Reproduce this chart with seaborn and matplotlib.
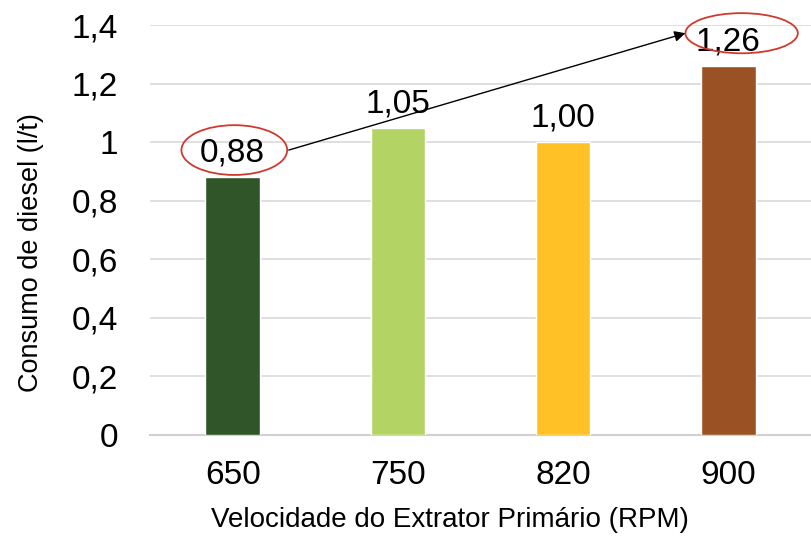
import matplotlib
matplotlib.use("Agg")
import matplotlib.pyplot as plt
from matplotlib.patches import Ellipse
import seaborn as sns
import pandas as pd

# Data
rpm = ["650", "750", "820", "900"]
consumo = [0.88, 1.05, 1.00, 1.26]
cores = ["#2F5528", "#B3D465", "#FFC125", "#9A5124"]
yticks = [0, 0.2, 0.4, 0.6, 0.8, 1.0, 1.2, 1.4]
ytick_labels = ["0", "0,2", "0,4", "0,6", "0,8", "1", "1,2", "1,4"]

sns.set_theme(style="white")
plt.rcParams["font.family"] = ["Liberation Sans", "DejaVu Sans"]
plt.rcParams["text.color"] = "black"
plt.rcParams["axes.labelcolor"] = "black"

df = pd.DataFrame({"rpm": rpm, "consumo": consumo})

fig = plt.figure(figsize=(8.11, 5.40), dpi=100)
ax = fig.add_axes([0.185, 0.1944, 0.815, 0.7593])

sns.barplot(data=df, x="rpm", y="consumo", hue="rpm", palette=cores,
            width=0.33, legend=False, ax=ax, saturation=1, zorder=3)

ax.set_ylim(0, 1.4)
ax.set_xlim(-0.5, 3.5)
ax.set_yticks(yticks)
ax.set_yticklabels(ytick_labels)
ax.yaxis.grid(True, color="#D9D9D9", linewidth=1.2, zorder=0)
ax.set_axisbelow(True)
for s in ["top", "right", "left"]:
    ax.spines[s].set_visible(False)
ax.spines["bottom"].set_color("#D0D0D0")
ax.spines["bottom"].set_linewidth(1.5)
ax.tick_params(axis="both", length=0, labelsize=24, colors="black")
ax.tick_params(axis="y", pad=23)
ax.tick_params(axis="x", pad=18)

ax.set_xlabel("Velocidade do Extrator Primário (RPM)", fontsize=20,
              labelpad=10, color="black")
ax.xaxis.set_label_coords(0.454, -0.175)
ax.set_ylabel("Consumo de diesel (l/t)", fontsize=19.5, labelpad=16,
              color="black")
ax.yaxis.set_label_coords(-0.16, 0.446)

# Value labels above each bar
for i, v in enumerate(consumo):
    ax.annotate(f"{v:.2f}".replace(".", ","), xy=(i, v), xytext=(0, 6),
                textcoords="offset points", ha="center", va="bottom",
                fontsize=24, color="black")

# Highlight the lowest and highest consumption
i_min, i_max = 0, 3
e1 = Ellipse((i_min + 0.01, consumo[i_min] + 0.093), width=0.64, height=0.17,
             fill=False, edgecolor="#D03A2E", linewidth=1.3, clip_on=False, zorder=5)
e2 = Ellipse((i_max + 0.08, consumo[i_max] + 0.112), width=0.68, height=0.137,
             fill=False, edgecolor="#D03A2E", linewidth=1.3, clip_on=False, zorder=5)
ax.add_patch(e1)
ax.add_patch(e2)

ax.annotate("", xy=(i_max + 0.08 - 0.34, consumo[i_max] + 0.112),
            xytext=(i_min + 0.01 + 0.33, consumo[i_min] + 0.093),
            arrowprops=dict(arrowstyle="-|>", color="black", lw=1.0,
                            mutation_scale=16, shrinkA=0, shrinkB=0),
            annotation_clip=False, zorder=6)

fig.savefig("out.png", dpi=100)
